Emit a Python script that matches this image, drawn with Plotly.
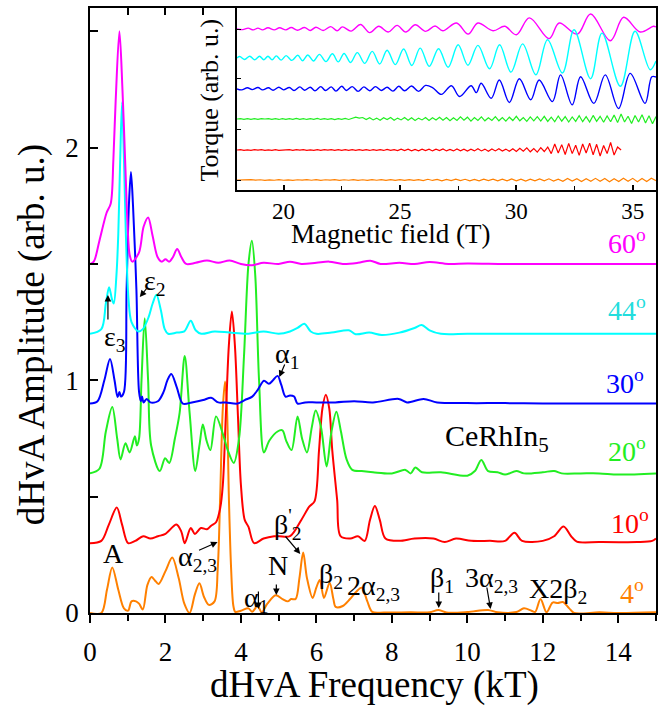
import numpy as np
import plotly.graph_objects as go

# ---------------- main spectra (frequency kT, amplitude incl. offset) -------------
f_4 = [0.0, 0.3, 0.45, 0.59, 0.75, 0.9, 1.01, 1.1, 1.22, 1.3, 1.4, 1.52, 1.63, 1.72, 1.82, 2.0, 2.18, 2.35, 2.5, 2.64,
       2.78, 2.9, 3.02, 3.15, 3.3, 3.385, 3.45, 3.52, 3.58, 3.63, 3.68, 3.74, 3.8, 3.85, 4.0, 4.2, 4.3, 4.44, 4.55,
       4.7, 4.92, 5.1, 5.24, 5.33, 5.45, 5.55, 5.65, 5.75, 5.9, 6.0, 6.09, 6.2, 6.35, 6.45, 6.51, 6.7, 6.89, 7.05,
       7.2, 7.35, 7.48, 7.8, 8.5, 9.0, 9.23, 9.45, 10.0, 10.55, 10.8, 11.3, 11.5, 11.7, 11.8, 11.94, 12.1, 12.26,
       12.4, 12.53, 12.7, 12.83, 13.5, 14.0, 15.0]
a_4 = [0.0, 0.0, 0.1, 0.196, 0.1, 0.02, 0.01, 0.05, 0.05, 0.04, 0.015, 0.12, 0.155, 0.14, 0.125, 0.18, 0.238, 0.15, 0.04, 0.0,
       0.08, 0.128, 0.07, 0.035, 0.05, 0.19, 0.5, 0.88, 0.995, 0.88, 0.5, 0.19, 0.03, 0.005, 0.01, 0.02, 0.005, 0.03, 0.003,
       0.04, 0.076, 0.06, 0.05, 0.06, 0.06, 0.15, 0.26, 0.15, 0.065, 0.11, 0.142, 0.065, 0.13, 0.06, 0.026, 0.03, 0.06, 0.09,
       0.109, 0.05, 0.005, 0.002, 0.003, 0.003, 0.013, 0.002, 0.004, 0.013, 0.003, 0.004, 0.02, 0.01, 0.005, 0.06, 0.003, 0.045,
       0.043, 0.047, 0.02, 0.0, 0.003, 0.0, 0.003]

f_10 = [0.0, 0.3, 0.5, 0.71, 0.85, 1.01, 1.2, 1.41, 1.6, 1.8, 2.0, 2.29, 2.42, 2.51, 2.67, 2.78, 2.94, 3.1, 3.21, 3.34,
        3.45, 3.52, 3.6, 3.68, 3.76, 3.84, 3.92, 4.0, 4.1, 4.2, 4.35, 4.6, 4.88, 5.02, 5.3, 5.6, 5.81, 5.95, 6.07, 6.16,
        6.25, 6.34, 6.42, 6.55, 6.64, 6.9, 7.1, 7.28, 7.42, 7.55, 7.68, 7.83, 8.2, 8.6, 9.1, 9.4, 9.7, 10.1, 10.6, 11.0,
        11.25, 11.45, 12.0, 12.3, 12.55, 12.75, 12.9, 13.5, 14.5, 14.9, 15.0]
a_10 = [0.30, 0.31, 0.38, 0.453, 0.38, 0.30, 0.31, 0.33, 0.32, 0.33, 0.34, 0.38, 0.35, 0.30, 0.365, 0.34, 0.365, 0.36, 0.375, 0.39,
        0.45, 0.55, 0.85, 1.15, 1.296, 1.15, 0.85, 0.55, 0.4, 0.37, 0.30, 0.32, 0.33, 0.33, 0.33, 0.40, 0.457, 0.48, 0.70, 0.88,
        0.938, 0.88, 0.70, 0.486, 0.33, 0.32, 0.33, 0.31, 0.40, 0.46, 0.40, 0.32, 0.31, 0.32, 0.32, 0.305, 0.32, 0.31, 0.31, 0.31,
        0.345, 0.31, 0.31, 0.33, 0.372, 0.33, 0.307, 0.305, 0.305, 0.31, 0.32]

f_20 = [0.0, 0.25, 0.42, 0.59, 0.72, 0.81, 0.94, 1.05, 1.19, 1.24, 1.3, 1.365, 1.45, 1.54, 1.62, 1.85, 1.99, 2.1, 2.25,
        2.375, 2.51, 2.64, 2.79, 2.9, 2.99, 3.09, 3.19, 3.34, 3.52, 3.65, 3.81, 3.95, 4.08, 4.2, 4.29, 4.38, 4.48, 4.61,
        4.75, 4.97, 5.1, 5.2, 5.34, 5.5, 5.62, 5.75, 5.88, 5.98, 6.12, 6.27, 6.4, 6.53, 6.65, 6.8, 6.95, 7.2, 7.5, 8.0,
        8.36, 8.5, 8.62, 8.8, 9.3, 10.0, 10.2, 10.37, 10.55, 10.8, 11.0, 11.3, 11.5, 12.0, 12.3, 12.5, 13.0, 13.5, 14.0, 15.0]
a_20 = [0.60, 0.62, 0.78, 0.885, 0.75, 0.66, 0.73, 0.69, 0.76, 0.72, 0.75, 1.0, 1.267, 1.0, 0.72, 0.61, 0.665, 0.645, 0.75,
        0.86, 1.105, 0.86, 0.61, 0.72, 0.81, 0.74, 0.70, 0.845, 0.77, 0.70, 0.645, 0.75, 1.1, 1.5, 1.60, 1.45, 1.0, 0.69,
        0.74, 0.78, 0.785, 0.74, 0.70, 0.845, 0.75, 0.69, 0.80, 0.87, 0.80, 0.63, 0.78, 0.865, 0.78, 0.66, 0.615, 0.61, 0.605, 0.60,
        0.615, 0.60, 0.625, 0.605, 0.605, 0.59, 0.61, 0.658, 0.61, 0.605, 0.595, 0.61, 0.60, 0.605, 0.61, 0.60, 0.60, 0.60, 0.595, 0.60]

f_30 = [0.0, 0.2, 0.38, 0.53, 0.65, 0.73, 0.78, 0.82, 0.9, 0.97, 1.03, 1.085, 1.14, 1.23, 1.3, 1.35, 1.38, 1.42, 1.5, 1.6,
        1.8, 1.95, 2.05, 2.155, 2.3, 2.46, 2.7, 3.0, 3.21, 3.4, 3.6, 3.91, 4.1, 4.3, 4.45, 4.61, 4.74, 4.85, 4.97, 5.07,
        5.18, 5.3, 5.41, 5.5, 5.7, 6.0, 6.5, 7.0, 7.5, 8.18, 8.4, 8.84, 9.2, 10.0, 11.0, 12.0, 13.0, 14.0, 15.0]
a_30 = [0.90, 0.91, 1.0, 1.092, 1.0, 0.928, 0.95, 0.93, 0.95, 1.39, 1.75, 1.895, 1.75, 1.39, 0.95, 0.91, 0.93, 0.905, 0.92, 0.905,
        0.91, 0.95, 1.0, 1.027, 0.97, 0.90, 0.905, 0.915, 0.925, 0.905, 0.905, 0.90, 0.915, 0.93, 0.96, 0.998, 0.985, 1.0, 1.019, 0.98,
        0.93, 0.935, 0.93, 0.90, 0.905, 0.905, 0.905, 0.91, 0.905, 0.92, 0.905, 0.92, 0.905, 0.902, 0.902, 0.90, 0.90, 0.90, 0.90]

f_44 = [0.0, 0.3, 0.42, 0.505, 0.58, 0.63, 0.7, 0.75, 0.8, 0.85, 0.9, 0.95, 1.02, 1.1, 1.28, 1.4, 1.55, 1.66, 1.76, 1.88,
        1.98, 2.07, 2.3, 2.5, 2.67, 2.8, 2.95, 3.3, 3.7, 4.2, 4.6, 5.0, 5.3, 5.5, 5.68, 5.85, 6.0, 6.4, 6.86, 7.04, 7.4,
        7.73, 8.2, 8.6, 8.79, 9.0, 9.3, 10.0, 11.0, 12.0, 13.0, 15.0]
a_44 = [1.20, 1.22, 1.33, 1.40, 1.35, 1.33, 1.45, 1.63, 1.95, 2.196, 1.95, 1.63, 1.35, 1.25, 1.21, 1.22, 1.27, 1.33, 1.368, 1.30,
        1.22, 1.20, 1.205, 1.21, 1.256, 1.215, 1.20, 1.21, 1.205, 1.20, 1.21, 1.20, 1.21, 1.225, 1.243, 1.21, 1.20, 1.205, 1.215, 1.198, 1.205,
        1.195, 1.205, 1.225, 1.238, 1.215, 1.20, 1.20, 1.20, 1.20, 1.20, 1.20]

f_60 = [0.0, 0.1, 0.25, 0.44, 0.55, 0.62, 0.68, 0.78, 0.86, 0.93, 0.995, 1.05, 1.12, 1.3, 1.42, 1.54, 1.66, 1.79, 1.9, 2.0,
        2.1, 2.2, 2.31, 2.42, 2.55, 2.8, 3.1, 3.4, 3.7, 4.0, 4.3, 4.6, 5.0, 5.3, 5.6, 6.0, 6.34, 6.7, 7.1, 7.43, 7.7, 8.2,
        8.6, 9.0, 9.5, 10.0, 11.0, 12.0, 13.0, 14.0, 15.0]
a_60 = [1.50, 1.51, 1.60, 1.72, 1.76, 1.95, 2.2, 2.50, 2.25, 1.95, 1.67, 1.54, 1.51, 1.55, 1.66, 1.70, 1.62, 1.53, 1.51, 1.52,
        1.51, 1.53, 1.564, 1.53, 1.50, 1.505, 1.515, 1.505, 1.515, 1.50, 1.495, 1.505, 1.50, 1.51, 1.50, 1.505, 1.51, 1.50, 1.505, 1.514, 1.50, 1.505,
        1.50, 1.508, 1.50, 1.502, 1.50, 1.50, 1.50, 1.50, 1.50]

# ---------------- inset torque (field T, deviation from own baseline) -------------
inset_offsets = {"4": 0.0, "10": 1.0, "20": 2.033, "30": 3.033, "44": 4.067, "60": 5.033}

B_60 = [18.0, 18.25, 18.48, 18.7, 18.9, 19.1, 19.33, 19.6, 19.83, 20.1, 20.33, 20.6, 20.9, 21.15, 21.39, 21.7, 22.03, 22.3,
        22.53, 22.9, 23.31, 23.7, 24.09, 24.5, 24.88, 25.25, 25.66, 26.1, 26.51, 26.84, 27.43, 27.93, 28.35, 29.0, 29.5, 30.0,
        30.56, 31.41, 31.84, 32.62, 33.19, 34.04, 34.61, 35.32, 35.89, 36.0]
t_60 = [0, -0.02, 0.03, -0.03, 0.03, -0.03, 0.04, -0.03, 0.04, -0.03, 0.05, -0.04, 0.05, -0.05, 0.06, -0.05, 0.08, -0.06,
        0.07, -0.07, 0.15, -0.12, 0.09, -0.10, 0.12, -0.10, 0.14, -0.08, 0.10, -0.06, 0.20, -0.17, 0.20, -0.06, 0.09, -0.19,
        0.37, -0.32, 0.20, -0.17, 0.50, -0.39, 0.39, -0.10, 0.09, 0.07]

B_44 = [18.0, 18.12, 18.33, 18.55, 18.76, 18.97, 19.15, 19.33, 19.51, 19.69, 19.9, 20.11, 20.36, 20.61, 20.82, 21.04, 21.29,
        21.54, 21.82, 22.1, 22.35, 22.6, 22.88, 23.17, 23.49, 23.81, 24.13, 24.45, 24.8, 25.16, 25.51, 25.87, 26.26, 26.66,
        27.07, 27.5, 27.92, 28.35, 28.85, 29.28, 29.77, 30.27, 30.84, 31.34, 31.98, 32.48, 33.19, 33.68, 34.47, 35.1, 35.75, 36.0]
t_44 = [0.0, 0.05, -0.05, 0.06, -0.06, 0.06, -0.06, 0.06, -0.06, 0.07, -0.07, 0.08, -0.08, 0.09, -0.09, 0.10, -0.1,
        0.12, -0.12, 0.14, -0.13, 0.15, -0.15, 0.18, -0.18, 0.22, -0.2, 0.26, -0.22, 0.30, -0.25, 0.33, -0.28, 0.31,
        -0.31, 0.44, -0.24, 0.42, -0.36, 0.44, -0.47, 0.47, -0.56, 0.61, -0.50, 0.94, -0.69, 0.83, -0.94, 0.89, -0.39, -0.1]

B_30 = [18.0, 18.2, 18.45, 18.65, 18.9, 19.1, 19.35, 19.55, 19.8, 20.0, 20.25, 20.45, 20.7, 20.9, 21.15, 21.35, 21.6, 21.8,
        22.05, 22.25, 22.5, 22.7, 22.95, 23.2, 23.45, 23.7, 23.95, 24.2, 24.45, 24.7, 24.95, 25.2, 25.5, 25.8, 26.1, 26.4,
        26.78, 27.21, 27.56, 28.06, 28.28, 28.49, 28.92, 29.27, 29.7, 30.13, 30.62, 30.98, 31.55, 31.9, 32.4, 32.76, 33.33,
        33.82, 34.39, 34.89, 35.53, 35.82, 36.0]
t_30 = [0, -0.03, 0.04, -0.02, 0.05, -0.03, 0.04, -0.04, 0.06, -0.03, 0.05, -0.05, 0.07, -0.04, 0.06, -0.06, 0.08, -0.05,
        0.07, -0.07, 0.09, -0.05, 0.08, -0.08, 0.07, -0.06, 0.08, -0.05, 0.06, -0.07, 0.09, -0.06, 0.10, -0.08, 0.12, 0.05,
        -0.18, 0.11, -0.25, 0.11, -0.12, 0.19, -0.31, 0.30, -0.45, 0.34, -0.36, 0.30, -0.42, 0.47, -0.53, 0.41, -0.48,
        0.47, -0.65, 0.52, -0.48, 0.41, 0.40]

B_20_range = (18.0, 36.0)
t_20 = [0, .01, -.01, .015, -.01, .01, -.015, .01, 0, .015, -.01, .01, -.015, .015, -.01, .01, -.01, .02, -.01, .015,
        -.015, .01, -.01, .02, -.015, .01, -.01, .015, -.02, .015, -.01, .02, -.015, .01,
        .06, .03, .05, -.02, .04, -.03, .03, -.04, .04, -.02, .05, -.04, .03, -.03, .05, -.04, .04, -.05, .03, -.03,
        .05, -.05, .04, -.03, .06, -.04,
        .05, -.06, .04, -.05, .07, -.04, .06, -.07, .05, -.05, .07, -.06, .04, -.05, .08, -.06, .05, -.07, .06, -.05,
        .09, -.06, .05, -.08, .07, -.06, .08,
        -.07, .09, -.08, .06, -.09, .10, -.07, .08, -.10, .07, -.08, .11, -.09, .08, -.10, .12, -.08, .09, -.11, .10,
        -.09, .13, -.12, .17, -.10, .09, -.15, .12, -.10, .14, -.13, .11, -.16, .08]

B_10_range = (18.0, 34.5)
t_10 = [0, .01, -.01, .005, -.01, .01, -.005, .01, -.01, .005, -.01, .01, -.01, .005, -.005, .01, -.01, .01, -.005, .01,
        -.01, .005, -.01, .01, -.01, .01, -.005, .01, -.01, .015, -.01, .01, -.015, .01, -.01, .015, -.01, .01, -.015, .015,
        -.01, .01, -.015, .02, -.01, .015, -.02,
        .03, -.02, .025, -.03, .02, -.025, .03, -.02, .03, -.03, .025, -.02, .035, -.03, .02, -.03, .035, -.025, .03,
        -.035, .025, -.03, .04, -.03, .03, -.04, .035, -.03, .04, -.035, .03, -.04, .045,
        -.05, .06, -.04, .07, -.06, .05, -.07, .08, -.05, .10,
        -.12, .20, -.10, .18, -.15, .22, -.12, .16, -.18, .20, -.10, .23, -.16, .19, -.20, .15, -.12, .25, -.17, .10, 0]

B_4_range = (18.0, 36.0)
t_4 = [0, .008, -.008, .01, -.006, .008, -.01, .006, -.008, .01, -.008, .006, -.01, .008, -.006, .01, -.008, .01,
       -.01, .008, -.006, .01, -.01, .008, -.008, .012, -.01, .008, -.012, .01, -.008, .012, -.01, .012, -.012, .01,
       -.01, .015, -.012, .012,
       -.02, .025, -.015, .02, -.025, .02, -.02, .03, -.02, .025, -.03, .02, -.025, .03, -.02, .03, -.03, .025, -.03,
       .035, -.025, .03, -.035, .03, -.03, .035, -.03, .04, -.035, .03,
       -.04, .05, -.035, .045, -.05, .04, -.045, .055, -.04, .05, -.055, .045, -.05, .06, -.04, .055, -.06, .05, -.05,
       .06, -.02]

COL = {"4": "#FF8000", "10": "#FF0000", "20": "#22EE22", "30": "#0000FF", "44": "#00FFFF", "60": "#FF00FF"}
FONT = "Liberation Serif, Times New Roman, serif"

fig = go.Figure()

main_sets = [("4", f_4, a_4), ("10", f_10, a_10), ("20", f_20, a_20),
             ("30", f_30, a_30), ("44", f_44, a_44), ("60", f_60, a_60)]
for key, f, a in main_sets:
    fig.add_trace(go.Scatter(x=f, y=a, mode="lines",
                             line=dict(color=COL[key], width=2, shape="spline", smoothing=0.9),
                             showlegend=False, hoverinfo="skip"))

# inset traces
smooth_sets = [("60", B_60, t_60), ("44", B_44, t_44), ("30", B_30, t_30)]
for key, B, t in smooth_sets:
    fig.add_trace(go.Scatter(x=B, y=np.array(t) + inset_offsets[key], mode="lines",
                             line=dict(color=COL[key], width=1.4, shape="spline", smoothing=1.0),
                             xaxis="x2", yaxis="y2", showlegend=False, hoverinfo="skip"))
noisy_sets = [("20", B_20_range, t_20), ("10", B_10_range, t_10), ("4", B_4_range, t_4)]
for key, rng, t in noisy_sets:
    B = np.linspace(rng[0], rng[1], len(t))
    fig.add_trace(go.Scatter(x=B, y=np.array(t) + inset_offsets[key], mode="lines",
                             line=dict(color=COL[key], width=1.2),
                             xaxis="x2", yaxis="y2", showlegend=False, hoverinfo="skip"))

# dummy for top tick axis
fig.add_trace(go.Scatter(x=[None], y=[None], xaxis="x3", yaxis="y", showlegend=False, hoverinfo="skip"))

L, T, W, H = 90, 8, 568, 605


def P(px, py):
    return (px - L) / W, (T + H - py) / H


ann = []


def text(px, py, s, size=28, color="black", xanchor="left", yanchor="middle", angle=0):
    x, y = P(px, py)
    ann.append(dict(x=x, y=y, xref="paper", yref="paper", text=s, showarrow=False,
                    xanchor=xanchor, yanchor=yanchor, textangle=angle,
                    font=dict(family=FONT, size=size, color=color)))


def arrow(hx, hy, tx, ty):
    x, y = P(hx, hy)
    ann.append(dict(x=x, y=y, xref="paper", yref="paper", text="", showarrow=True,
                    ax=tx - hx, ay=ty - hy, arrowhead=2, arrowsize=1.1, arrowwidth=1.2,
                    arrowcolor="black"))


# axis titles
text(376, 685, "dHvA Frequency (kT)", size=37, xanchor="center")
text(32, 335, "dHvA Amplitude (arb. u.)", size=37, xanchor="center", angle=-90)
text(210, 100, "Torque (arb. u.)", size=26, xanchor="center", angle=-90)
text(392, 234, "Magnetic field (T)", size=27, xanchor="center")

# angle labels
text(629, 241, "60<sup>o</sup>", color=COL["60"], xanchor="center")
text(629, 308, "44<sup>o</sup>", color="#22DDDD", xanchor="center")
text(627, 381, "30<sup>o</sup>", color=COL["30"], xanchor="center")
text(629, 449, "20<sup>o</sup>", color=COL["20"], xanchor="center")
text(632, 521, "10<sup>o</sup>", color=COL["10"], xanchor="center")
text(634, 591, "4<sup>o</sup>", color=COL["4"], xanchor="center")

text(444, 438, "CeRhIn<sub>5</sub>", size=30)

# peak labels
text(114, 553, "A", xanchor="center")
text(176, 558, "α<sub>2,3</sub>")
text(243, 599, "α<sub>1</sub>")
text(279, 565, "N", xanchor="center")
text(273, 524, "β<sup>'</sup><sub>2</sub>")
text(318, 575, "β<sub>2</sub>")
text(346, 587, "2α<sub>2,3</sub>")
text(429, 579, "β<sub>1</sub>")
text(464, 579, "3α<sub>2,3</sub>")
text(529, 590, "X2β<sub>2</sub>")
text(142, 282, "ε<sub>2</sub>")
text(102, 338, "ε<sub>3</sub>")
text(274, 356, "α<sub>1</sub>")

arrow(108, 295, 108, 321)
arrow(140, 297, 148, 287)
arrow(280, 377, 286, 363)
arrow(218, 542, 198, 551)
arrow(259, 609, 259, 590)
arrow(277, 595, 277, 583)
arrow(301, 554, 285, 535)
arrow(440, 608, 440, 591)
arrow(492, 609, 488, 586)

axis_common = dict(showgrid=False, zeroline=False, linecolor="black", linewidth=1.5,
                   tickcolor="black", tickwidth=1.5, tickfont=dict(family=FONT, size=27, color="black"))

fig.update_layout(
    width=658, height=706,
    margin=dict(l=L, r=658 - L - W, t=T, b=706 - T - H),
    paper_bgcolor="white", plot_bgcolor="white",
    showlegend=False,
    xaxis=dict(range=[0, 15], domain=[0, 1], anchor="y", mirror=True, showline=True,
               ticks="outside", ticklen=8, dtick=2, tick0=0, ticklabelstandoff=6,
               minor=dict(dtick=1, ticks="outside", ticklen=6, tickcolor="black", tickwidth=1.5),
               **axis_common),
    xaxis3=dict(range=[0, 15], overlaying="x", side="top", anchor="y", showline=False,
                ticks="inside", ticklen=7, dtick=1, tick0=0, showticklabels=False,
                showgrid=False, zeroline=False, tickcolor="black", tickwidth=1.5),
    yaxis=dict(range=[0, 2.6], domain=[0, 1], anchor="x", mirror=True, showline=True,
               ticks="inside", ticklen=8, tickvals=[0, 0.5, 1, 1.5, 2, 2.5],
               ticktext=["0", "", "1", "", "2", ""], ticklabelstandoff=4,
               **axis_common),
    xaxis2=dict(range=[18, 36], domain=[(237.5 - L) / W, 1.0], anchor="y2", mirror=True, showline=True,
                ticks="inside", ticklen=5, dtick=5, tick0=0,
                minor=dict(dtick=2.5, ticks="inside", ticklen=4, tickcolor="black", tickwidth=1.2),
                showgrid=False, zeroline=False, linecolor="black", linewidth=1.5,
                tickcolor="black", tickwidth=1.5, tickfont=dict(family=FONT, size=23, color="black")),
    yaxis2=dict(range=[-0.333, 5.733], domain=[(613 - 190) / H, 1.0], anchor="x2", mirror=True, showline=True,
                ticks="inside", ticklen=4, tickvals=[0.0, 1.7, 3.367, 5.033], showticklabels=False,
                showgrid=False, zeroline=False, linecolor="black", linewidth=1.5,
                tickcolor="black", tickwidth=1.2),
    annotations=ann,
)

fig.write_html("out.html")
